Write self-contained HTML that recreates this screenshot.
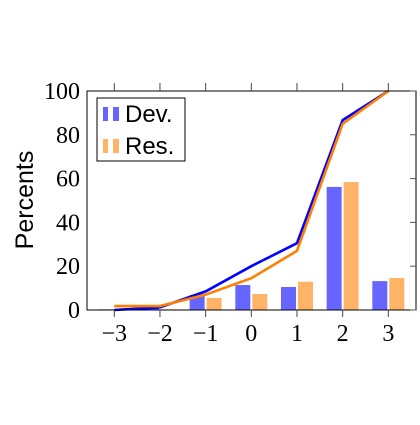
<!DOCTYPE html>
<html><head><meta charset="utf-8"><style>
body{margin:0;background:#fff;width:420px;height:420px;overflow:hidden}
svg text{font-family:"Liberation Serif",serif;font-size:24px;fill:#000}
</style></head><body>
<svg id="c" width="420" height="420">
<text transform="translate(33,200) rotate(-90)" text-anchor="middle" style="font-family:'Liberation Sans',sans-serif;font-size:25px">Percents</text>
</svg>
<script>
const categories=[-3,-2,-1,0,1,2,3];
const devBars=[0.3,1,6.8,11.4,10.5,56.2,13.2];
const resBars=[0.2,0.3,5.5,7.3,12.9,58.4,14.6];
const devLine=[0,1.2,8.5,20,30.5,86.7,100];
const resLine=[1.8,1.8,7,14.5,27,85,100];
const yTicks=[0,20,40,60,80,100];
const xLabels=["\u22123","\u22122","\u22121","0","1","2","3"];
const L=87,R=416,T=91,B=310;
const xs=v=>114.3+(v+3)*45.67;
const ys=v=>B-(v/100)*(B-T);
const svg=document.getElementById('c');const NS='http://www.w3.org/2000/svg';
function mk(t,a,p){const e=document.createElementNS(NS,t);for(const k in a)e.setAttribute(k,a[k]);(p||svg).appendChild(e);return e;}
categories.forEach((c,i)=>{
 let b=mk('rect',{x:xs(c)-16,y:ys(devBars[i]),width:15,height:B-ys(devBars[i]),fill:'#6666ff'});
 
 
 let r=mk('rect',{x:xs(c)+1,y:ys(resBars[i]),width:15,height:B-ys(resBars[i]),fill:'#ffb366'});
 
 
});
let d=mk('polyline',{points:categories.map((c,i)=>xs(c)+','+ys(devLine[i])).join(' '),fill:'none',stroke:'#0000ff','stroke-width':2.6});


let rl=mk('polyline',{points:categories.map((c,i)=>xs(c)+','+ys(resLine[i])).join(' '),fill:'none',stroke:'#ff7f00','stroke-width':2.6});


mk('rect',{x:L,y:T,width:R-L,height:B-T,fill:'none',stroke:'#000','stroke-width':1});
categories.forEach((c,i)=>{
 mk('line',{x1:xs(c),x2:xs(c),y1:B,y2:B+7,stroke:'#444'});
 mk('line',{x1:xs(c),x2:xs(c),y1:T-8,y2:T,stroke:'#444'});
 let t=mk('text',{x:xs(c),y:341,'text-anchor':'middle'});t.textContent=xLabels[i];
 
 
});
yTicks.forEach(v=>{
 mk('line',{x1:R,x2:R-6,y1:ys(v),y2:ys(v),stroke:'#555'});
 let t=mk('text',{x:80,y:ys(v)+8,'text-anchor':'end'});t.textContent=v;
 
 
});
const g=mk('g',{});


mk('rect',{x:97,y:98,width:88,height:63,fill:'#fff',stroke:'#000'},g);
[['#6666ff','Dev.',104],['#ffb366','Res.',136]].forEach(([c,l,y])=>{
 mk('rect',{x:103,y:y+3,width:5,height:14,fill:c},g);
 mk('rect',{x:113,y:y+3,width:6,height:14,fill:c},g);
 let t=mk('text',{x:125,y:y+18,style:"font-family:'Liberation Sans',sans-serif;font-size:24px"},g);t.textContent=l;
 
 
});
</script>
</body></html>
